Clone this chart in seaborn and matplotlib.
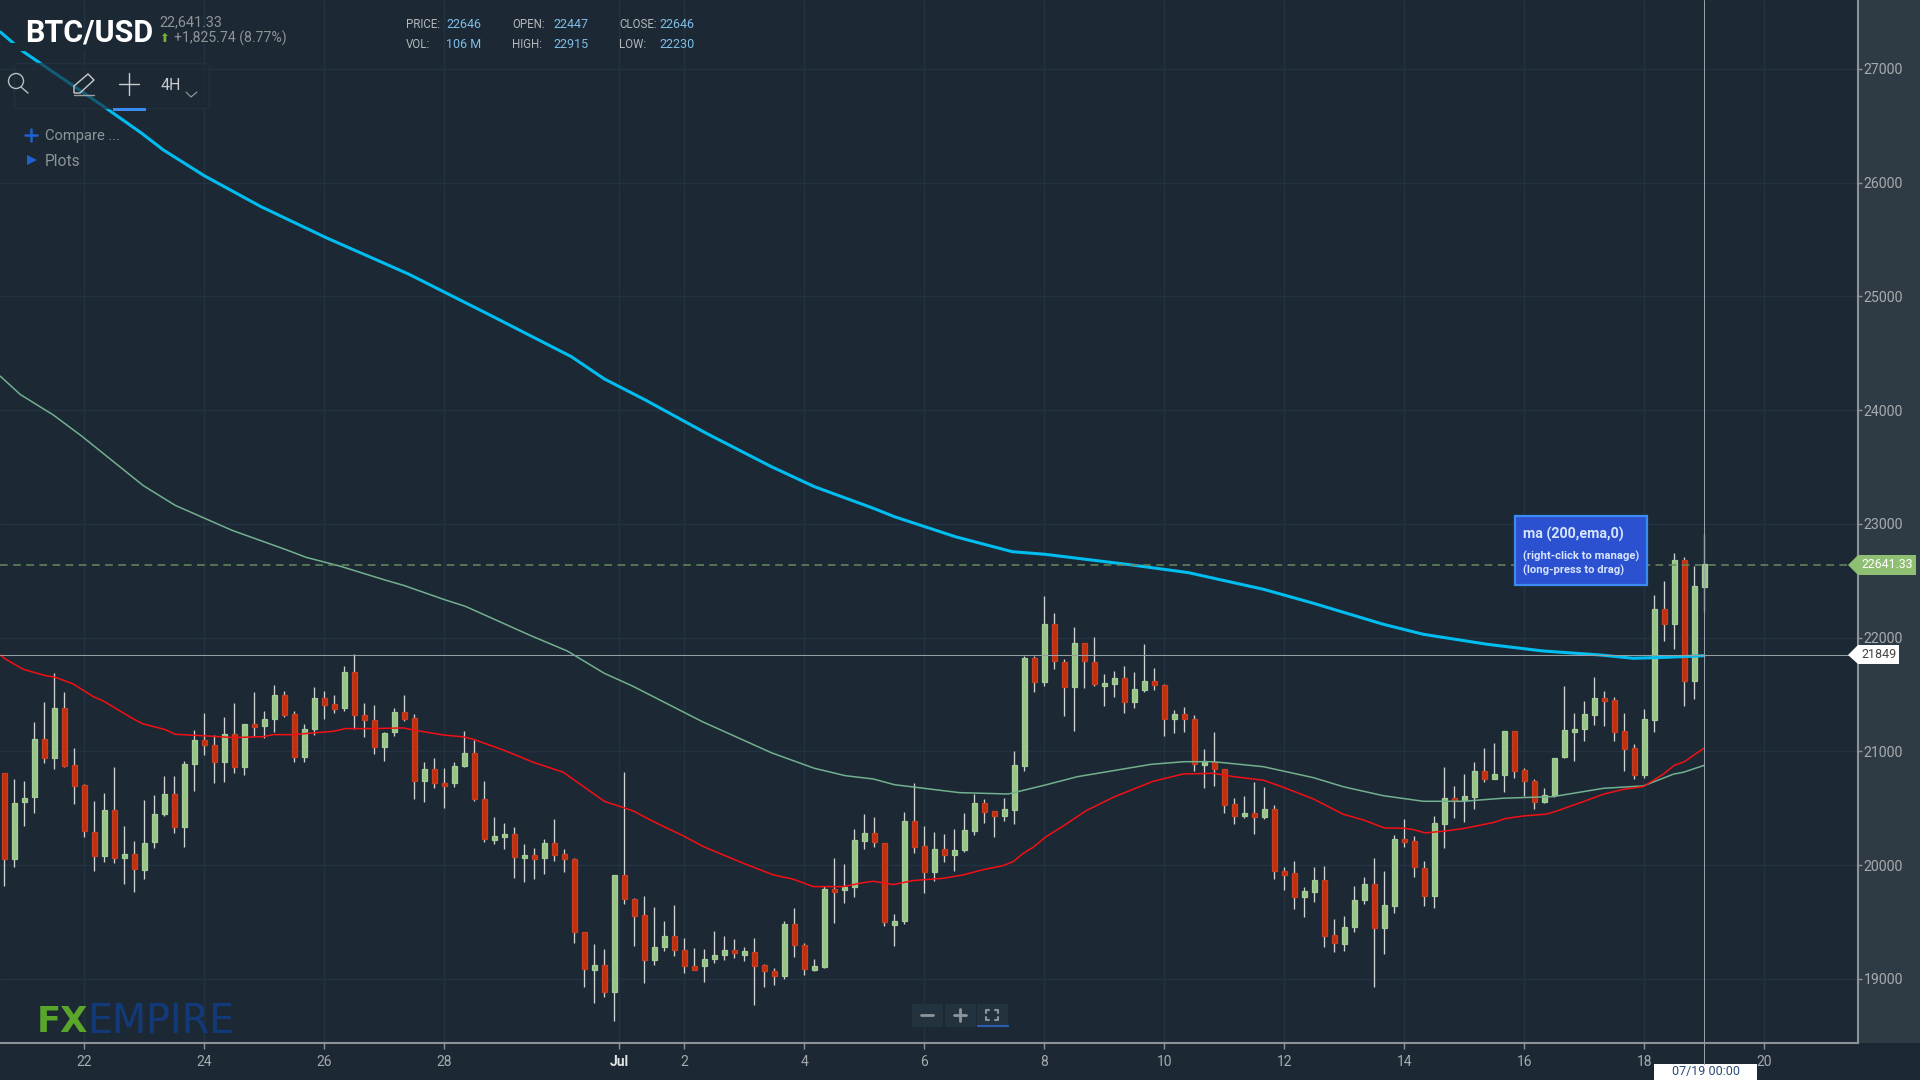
import matplotlib
matplotlib.use('Agg')
import matplotlib.pyplot as plt
from matplotlib.patches import Rectangle, Polygon
import seaborn as sns
import pandas as pd
import numpy as np

# 4H candles
open_px = [20814, 20058, 20553, 20600, 21107, 20940, 21385, 20878, 20703, 20295,
           20084, 20483, 20061, 20099, 19961, 20205, 20454, 20627, 20336, 20893,
           21098, 21054, 20905, 21154, 20864, 21242, 21227, 21289, 21494, 21327,
           20952, 21201, 21470, 21418, 21380, 21702, 21318, 21274, 21040, 21169,
           21350, 21295, 20744, 20846, 20726, 20720, 20873, 20990, 20580, 20225,
           20246, 20272, 20061, 20088, 20061, 20199, 20099, 20055, 19417, 19083,
           19121, 18883, 19912, 19704, 19560, 19170, 19279, 19376, 19253, 19112,
           19115, 19179, 19215, 19253, 19215, 19241, 19121, 19068, 19027, 19484,
           19297, 19083, 19103, 19792, 19783, 19809, 20216, 20287, 20199, 19478,
           19510, 20386, 20167, 19938, 20143, 20093, 20134, 20304, 20550, 20474,
           20433, 20489, 20873, 21822, 21611, 22121, 21790, 21565, 21957, 21790,
           21576, 21597, 21650, 21433, 21541, 21617, 21582, 21289, 21330, 21283,
           20885, 20908, 20844, 20539, 20434, 20463, 20425, 20492, 19947, 19935,
           19721, 19762, 19868, 19384, 19311, 19458, 19698, 19836, 19446, 19645,
           20231, 20211, 19979, 19733, 20366, 20595, 20577, 20600, 20826, 20762,
           20797, 21178, 20835, 20738, 20553, 20618, 20949, 21169, 21201, 21324,
           21473, 21450, 21178, 21034, 20797, 21280, 22253, 22124, 22681, 21623,
           22447]
close_px = [20058, 20550, 20594, 21107, 20940, 21385, 20876, 20700, 20304, 20084,
            20483, 20061, 20099, 19964, 20199, 20451, 20627, 20336, 20890, 21098,
            21060, 20905, 21154, 20864, 21242, 21213, 21286, 21494, 21324, 20952,
            21195, 21470, 21412, 21377, 21702, 21324, 21280, 21040, 21163, 21350,
            21289, 20744, 20846, 20720, 20697, 20870, 20990, 20586, 20234, 20255,
            20275, 20073, 20088, 20058, 20199, 20093, 20058, 19414, 19086, 19121,
            18883, 19912, 19707, 19554, 19170, 19285, 19376, 19258, 19118, 19083,
            19176, 19209, 19253, 19226, 19244, 19118, 19071, 19027, 19484, 19302,
            19091, 19112, 19792, 19762, 19809, 20219, 20287, 20202, 19501, 19507,
            20386, 20161, 19938, 20143, 20093, 20131, 20307, 20550, 20465, 20433,
            20495, 20879, 21822, 21611, 22121, 21796, 21565, 21957, 21796, 21597,
            21606, 21650, 21433, 21550, 21617, 21588, 21289, 21330, 21289, 20894,
            20914, 20850, 20533, 20436, 20463, 20425, 20495, 19950, 19918, 19721,
            19771, 19868, 19381, 19314, 19461, 19692, 19836, 19446, 19648, 20231,
            20202, 19985, 19733, 20375, 20595, 20568, 20606, 20826, 20762, 20803,
            21178, 20832, 20744, 20556, 20615, 20946, 21186, 21198, 21330, 21473,
            21447, 21172, 21025, 20797, 21286, 22253, 22124, 22681, 21623, 22452,
            22646]
high_px = [20814, 20755, 20741, 21256, 21432, 21687, 21520, 21028, 20712, 20565,
           20632, 20864, 20345, 20216, 20577, 20621, 20785, 20785, 20920, 21192,
           21336, 21148, 21300, 21424, 21242, 21520, 21356, 21588, 21535, 21359,
           21239, 21564, 21532, 21500, 21752, 21854, 21424, 21412, 21169, 21380,
           21500, 21327, 20908, 20940, 20852, 20908, 21181, 21101, 20741, 20425,
           20369, 20337, 20190, 20149, 20228, 20404, 20140, 20061, 19417, 19305,
           19261, 19912, 20820, 19710, 19733, 19633, 19513, 19654, 19358, 19270,
           19261, 19425, 19379, 19349, 19279, 19358, 19130, 19097, 19513, 19622,
           19314, 19174, 19821, 20061, 20008, 20316, 20448, 20424, 20199, 19569,
           20465, 20720, 20345, 20293, 20272, 20316, 20457, 20627, 20580, 20474,
           20591, 21005, 21840, 21840, 22367, 22215, 21811, 22095, 21957, 22007,
           21679, 21711, 21752, 21696, 21943, 21732, 21594, 21362, 21392, 21324,
           21020, 21172, 20850, 20589, 20609, 20730, 20686, 20533, 19982, 20038,
           19809, 19982, 19994, 19525, 19554, 19818, 19894, 20061, 19950, 20269,
           20404, 20258, 20038, 20433, 20861, 20697, 20800, 20905, 21028, 21072,
           21178, 21183, 20852, 20756, 20677, 20946, 21576, 21336, 21447, 21655,
           21535, 21479, 21336, 21063, 21371, 22379, 22502, 22742, 22710, 22634,
           22915]
low_px = [19821, 19988, 20348, 20460, 20899, 20843, 20867, 20536, 20251, 19953,
          20032, 20020, 19833, 19768, 19876, 20152, 20436, 20284, 20164, 20656,
          20966, 20723, 20735, 20811, 20791, 21139, 21119, 21174, 21306, 20911,
          20911, 21142, 21283, 21339, 21359, 21195, 21130, 20975, 20920, 21139,
          21271, 20580, 20559, 20680, 20504, 20691, 20867, 20568, 20208, 20184,
          20140, 19888, 19856, 19877, 19921, 20041, 19941, 19317, 18933, 18790,
          18845, 18634, 19657, 19291, 18965, 19127, 19250, 19203, 19053, 19083,
          18974, 19138, 19170, 19182, 19162, 18775, 18930, 18951, 18998, 19194,
          19039, 19074, 19094, 19493, 19665, 19724, 20140, 20164, 19469, 19293,
          19481, 20105, 19756, 19865, 20029, 19953, 20117, 20269, 20369, 20249,
          20392, 20360, 20832, 21526, 21576, 21723, 21315, 21184, 21556, 21579,
          21403, 21483, 21336, 21380, 21524, 21544, 21140, 21163, 21172, 20832,
          20677, 20700, 20460, 20360, 20416, 20272, 20404, 19877, 19786, 19613,
          19546, 19677, 19282, 19238, 19250, 19417, 19657, 18933, 19217, 19581,
          20161, 19900, 19645, 19625, 20152, 20416, 20384, 20492, 20735, 20756,
          20647, 20767, 20612, 20492, 20548, 20603, 20940, 20920, 21096, 21236,
          21227, 21096, 20832, 20756, 20767, 21175, 21972, 21898, 21403, 21459,
          22230]

# moving averages, position in candles and price
ema200_x = [-0.4, 1.9, 10, 13.7, 15.9, 20, 25.7, 32.2, 40.4, 48.6, 56.7, 60, 64.1, 70.2, 76.7, 81,
            86.9, 89, 95.1, 100.8, 104.1, 106.5, 112.7, 118.4, 125.9, 130.9, 137.9, 141.9, 148.3,
            153.9, 159.6, 162.9, 166.3, 170]
ema200_y = [27325, 27152, 26666, 26437, 26288, 26061, 25788, 25516, 25198, 24835, 24471, 24275, 24090,
            23797, 23504, 23328, 23138, 23064, 22888, 22756, 22733, 22707, 22640, 22572, 22426, 22303,
            22118, 22030, 21942, 21883, 21848, 21819, 21828, 21842]
ma_green_x = [-0.4, 1.6, 4.9, 7.7, 13.9, 17.1, 22.8, 28.1, 30.2, 33.5, 38, 40, 44.1, 46.1, 52.6, 56.3,
              60, 62.8, 69.8, 76.7, 81, 84.1, 86.9, 89, 95.5, 100.4, 104.1, 107.3, 114.7, 118, 120.9,
              125.9, 130.9, 133.9, 137.9, 141.9, 145.9, 149.9, 154.9, 159.9, 163.9, 166.9, 167.9, 170]
ma_green_y = [24299, 24138, 23958, 23775, 23337, 23163, 22943, 22776, 22706, 22631, 22509, 22458, 22332,
              22276, 22020, 21883, 21687, 21576, 21262, 20989, 20852, 20787, 20758, 20708, 20638, 20626,
              20705, 20778, 20887, 20910, 20910, 20866, 20770, 20690, 20611, 20562, 20562, 20589, 20603,
              20676, 20697, 20800, 20817, 20878]
ma_red_x = [-0.4, 0.1, 1.9, 4.1, 5.1, 6.9, 8.9, 9.9, 12.9, 13.9, 16.1, 17.1, 20.9, 22.9, 25.9, 26.9, 28.9,
            30.9, 32.9, 34.1, 36.9, 39.9, 40.9, 43.9, 45.9, 46.9, 49.9, 52.9, 55.9, 60, 62.9, 64.9, 67.9,
            69.9, 73.9, 76.9, 78.9, 80.9, 83.9, 85.9, 86.9, 88.9, 90.9, 93.9, 95.9, 97.9, 99.9, 100.9,
            101.9, 102.9, 104.1, 105.9, 108.2, 110.9, 112.9, 114.9, 117.9, 120.9, 122.9, 125.9, 127.9,
            130.9, 133.9, 135.9, 138, 139.9, 140.9, 142.1, 143.9, 145.9, 148.9, 150.1, 151.9, 154.1,
            154.9, 157.9, 159.9, 161.9, 163.9, 165.9, 167, 168, 170]
ma_red_y = [21848, 21813, 21722, 21667, 21652, 21593, 21482, 21444, 21286, 21242, 21192, 21151, 21133,
            21122, 21130, 21148, 21148, 21163, 21177, 21201, 21201, 21207, 21189, 21145, 21128, 21107,
            21013, 20905, 20817, 20562, 20477, 20384, 20258, 20164, 20017, 19915, 19877, 19812, 19812,
            19847, 19859, 19830, 19865, 19885, 19915, 19961, 19997, 20032, 20105, 20158, 20246, 20345,
            20480, 20597, 20668, 20738, 20802, 20808, 20779, 20747, 20685, 20583, 20448, 20398, 20328,
            20325, 20313, 20284, 20299, 20322, 20375, 20410, 20433, 20448, 20466, 20559, 20624, 20667,
            20691, 20800, 20878, 20910, 21031]

last_price = 22641.33
cross_price = 21849

y_ticks = [19000, 20000, 21000, 22000, 23000, 24000, 25000, 26000, 27000]
x_ticks = [8, 20, 32, 44, 61.5, 68, 80, 92, 104, 116, 128, 140, 152, 164, 176]
x_labels = ['22', '24', '26', '28', 'Jul', '2', '4', '6', '8', '10', '12', '14', '16', '18', '20']

BG = '#1c2935'
GRID = '#233240'
PANEL = '#2e3a44'
AXIS = '#8d9296'
ROBOTO = ['Roboto', 'DejaVu Sans']

sns.set_theme(style='dark', rc={'figure.facecolor': BG, 'axes.facecolor': BG, 'axes.edgecolor': AXIS,
                                'axes.grid': True, 'grid.color': GRID, 'grid.linewidth': 1.0})
plt.rcParams['font.family'] = ROBOTO

fig = plt.figure(figsize=(19.2, 10.8), dpi=100)
fig.add_artist(Rectangle((1858 / 1920, 37 / 1080), 62 / 1920, 1043 / 1080, transform=fig.transFigure,
                         facecolor=PANEL, edgecolor='none', zorder=-1))
ax = fig.add_axes([0, 37 / 1080, 1858 / 1920, 1043 / 1080])
ax.patch.set_alpha(0)

df = pd.DataFrame({'open': open_px, 'high': high_px, 'low': low_px, 'close': close_px})
df['idx'] = np.arange(len(df))
df['top'] = df[['open', 'close']].max(axis=1)
df['bottom'] = df[['open', 'close']].min(axis=1)
up = df[df['close'] >= df['open']]
down = df[df['close'] < df['open']]

ax.vlines(df['idx'], df['low'], df['high'], color='#cfd2d2', lw=0.95, zorder=2)
ax.bar(up['idx'], up['top'] - up['bottom'], bottom=up['bottom'], width=0.52, color='#98c585',
       edgecolor='#a6cc98', linewidth=0.9, zorder=3)
ax.bar(down['idx'], down['top'] - down['bottom'], bottom=down['bottom'], width=0.52, color='#c12f0c',
       edgecolor='#c93e22', linewidth=0.9, zorder=3)

sns.lineplot(x=ma_green_x, y=ma_green_y, color='#72b08e', lw=1.1, sort=False, ax=ax, zorder=4)
sns.lineplot(x=ma_red_x, y=ma_red_y, color='#f40f14', lw=1.1, sort=False, ax=ax, zorder=4)
sns.lineplot(x=ema200_x, y=ema200_y, color='#00bdf0', lw=2.2, sort=False, ax=ax, zorder=4)

ax.axhline(last_price, color='#668a5c', lw=1.1, dashes=(5, 3.6), zorder=5)
ax.axhline(cross_price, color='#93a0a4', lw=0.75, zorder=5)

ax.set_xlim(-0.43, 185.37)
ax.set_ylim(18437, 27606)
ax.set_xlabel('')
ax.set_ylabel('')
ax.set_xticks(x_ticks)
ax.set_xticklabels(x_labels)
ax.set_yticks(y_ticks)
ax.yaxis.tick_right()
ax.tick_params(axis='x', length=4.5, width=1, color=AXIS, labelcolor='#a6abae', labelsize=10, pad=4,
               bottom=True)
ax.tick_params(axis='y', length=3, width=1, color=AXIS, labelcolor='#a6abae', labelsize=10.2, pad=1,
               right=True)
ax.get_xticklabels()[4].set_color('#e4e6e8')
ax.get_xticklabels()[4].set_fontweight('bold')
for s in ['top', 'left']:
    ax.spines[s].set_visible(False)
for s in ['bottom', 'right']:
    ax.spines[s].set_linewidth(1.5)
    ax.spines[s].set_color(AXIS)
ax.set_axisbelow(True)

# overlay in screen pixels for the terminal chrome
ov = fig.add_axes([0, 0, 1, 1], zorder=10)
ov.set_xlim(0, 1920)
ov.set_ylim(1080, 0)
ov.axis('off')
ov.patch.set_alpha(0)


def label(x, y, s, color, size, family=ROBOTO, weight='normal', ha='left'):
    ov.text(x, y, s, color=color, fontsize=size, family=family, fontweight=weight, ha=ha, va='center')


ov.add_patch(Rectangle((11, 43), 145, 8, facecolor=BG, edgecolor='none'))
label(25, 32, 'BTC/USD', 'white', 22, weight='bold')
label(159, 22, '22,641.33', '#8f9498', 10.4)
label(159, 38, '\u2b06', '#7ab32e', 8.5, family=['DejaVu Sans'])
label(174.5, 38, '+1,825.74 (8.77%)', '#8f9498', 10.1)

head_labels = ['PRICE:', 'OPEN:', 'CLOSE:', 'VOL:', 'HIGH:', 'LOW:']
head_values = ['22646', '22447', '22646', '106 M', '22915', '22230']
for k, (hl, hv) in enumerate(zip(head_labels, head_values)):
    yy = 24.5 if k < 3 else 45
    col = k % 3
    label([406, 512, 619][col], yy, hl, '#b4b8bb', 8.3)
    label([446, 553, 659][col], yy, hv, '#7fbde8', 9)

# toolbar
ov.add_patch(Rectangle((13.5, 63), 195, 45, facecolor=BG, alpha=0.65, edgecolor='#263540', lw=1))
ov.add_patch(plt.Circle((16, 81), 7.5, fill=False, edgecolor='#b9bcbe', lw=1))
ov.plot([21, 28], [87, 93], color='#b9bcbe', lw=1)
ov.add_patch(Polygon([(74, 93), (74, 86), (88, 74), (94, 80), (80, 93)], closed=True, fill=False,
                     edgecolor='#c9cbcc', lw=1))
ov.plot([74, 94], [95, 95], color='#9a9ea1', lw=1)
ov.plot([129, 129], [73, 95], color='#c9cbcc', lw=1)
ov.plot([119, 139], [84, 84], color='#c9cbcc', lw=1)
label(161, 85, '4H', '#c9cbcc', 11.5)
ov.plot([186, 191, 197], [92, 97, 92], color='#9a9ea1', lw=0.8)
ov.add_patch(Rectangle((113, 108), 33, 2.5, facecolor='#3b8cf0', edgecolor='none'))

ov.plot([31, 31], [129, 141], color='#1e62d0', lw=1.8)
ov.plot([25, 37], [135, 135], color='#1e62d0', lw=1.8)
label(45, 136, 'Compare ...', '#8e9499', 10.6)
ov.add_patch(Polygon([(27, 155), (37, 160), (27, 165)], closed=True, facecolor='#1e62d0', edgecolor='none'))
label(45, 161, 'Plots', '#8e9499', 11.2)

# tooltip of the moving average
ov.add_patch(Rectangle((1515, 516), 132, 69, facecolor='#2b50d0', edgecolor='#3b8cf0', lw=1.6))
label(1523, 534, 'ma (200,ema,0)', '#d6e4ff', 10.3, weight='bold')
label(1523, 556, '(right-click to manage)', '#d6e4ff', 8.1, weight='bold')
label(1523, 570, '(long-press to drag)', '#d6e4ff', 8.1, weight='bold')

# crosshair and price tags
ov.plot([1704.3, 1704.3], [0, 1064], color='#93a0a4', lw=0.75)
ov.add_patch(Polygon([(1848, 565), (1858, 555), (1916, 555), (1916, 575), (1858, 575)], closed=True,
                     facecolor='#8fbf73', edgecolor='none'))
label(1861, 565, '22641.33', 'white', 8.8)
ov.add_patch(Polygon([(1848, 655), (1858, 645), (1899, 645), (1899, 664), (1858, 664)], closed=True,
                     facecolor='white', edgecolor='none'))
label(1861, 655, '21849', '#444444', 9)
ov.add_patch(Rectangle((1654, 1064), 103, 16, facecolor='white', edgecolor='none'))
label(1705.5, 1071.5, '07/19 00:00', '#2a4a78', 9, ha='center')

# logo
label(37, 1022, 'FX', '#5aa62a', 25.5, family=['DejaVu Sans'], weight='bold')
label(87, 1022, 'EMPIRE', '#123a7a', 28.5, family=['DejaVu Sans'])

# zoom buttons
for bx in [912, 945, 977]:
    ov.add_patch(Rectangle((bx, 1004), 31, 23, facecolor='#22323e', edgecolor='none'))
ov.add_patch(Rectangle((977, 1025), 32, 2, facecolor='#2a5cb0', edgecolor='none'))
ov.plot([921, 933], [1015, 1015], color='#8f969b', lw=2)
ov.plot([954, 966], [1015, 1015], color='#8f969b', lw=2)
ov.plot([960, 960], [1009, 1021], color='#8f969b', lw=2)
for fx, fy, ddx, ddy in [(986, 1010, 1, 1), (998, 1010, -1, 1), (986, 1020, 1, -1), (998, 1020, -1, -1)]:
    ov.plot([fx, fx, fx + 3 * ddx], [fy + 3 * ddy, fy, fy], color='#8f969b', lw=1.5)

fig.savefig('out.png', dpi=100, facecolor=BG)
